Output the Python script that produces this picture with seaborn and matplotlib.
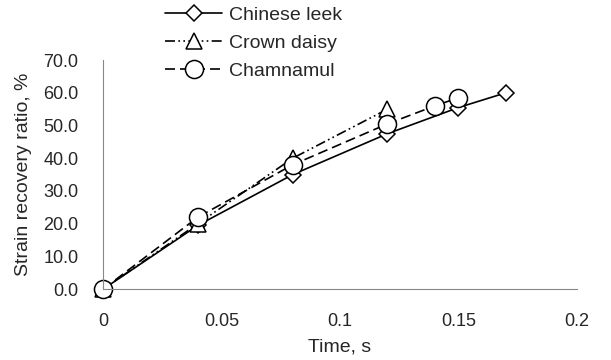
import pandas as pd
import matplotlib
matplotlib.use("Agg")
import matplotlib.pyplot as plt
import seaborn as sns

# Values
leek_time = [0, 0.04, 0.08, 0.12, 0.15, 0.17]
leek_ratio = [0, 19.5, 35.0, 47.5, 55.5, 60.0]

daisy_time = [0, 0.04, 0.08, 0.12]
daisy_ratio = [0, 20.0, 40.0, 55.0]

cham_time = [0, 0.04, 0.08, 0.12, 0.14, 0.15]
cham_ratio = [0, 22.0, 38.0, 50.5, 56.0, 58.5]

x_ticks = [0, 0.05, 0.1, 0.15, 0.2]
x_tick_labels = ["0", "0.05", "0.1", "0.15", "0.2"]
y_ticks = [0, 10, 20, 30, 40, 50, 60, 70]

series = [
    ("Chinese leek", leek_time, leek_ratio, "D", "-", 8.5),
    ("Crown daisy", daisy_time, daisy_ratio, "^", (0, (6, 2, 1, 2, 1, 2)), 11),
    ("Chamnamul", cham_time, cham_ratio, "o", (0, (6, 3)), 13),
]

sns.set_style("white")
plt.rcParams["font.family"] = ["Liberation Sans", "DejaVu Sans"]

fig = plt.figure(figsize=(6.11, 3.6), dpi=100)
ax = fig.add_axes([0.169, 0.197, 0.775, 0.636])

for name, t, r, mk, ls, ms in series:
    df = pd.DataFrame({"Time": t, "Ratio": r})
    sns.lineplot(data=df, x="Time", y="Ratio", ax=ax, color="black",
                 marker=mk, markersize=ms, markerfacecolor="white",
                 markeredgecolor="black", markeredgewidth=1.1,
                 linestyle=ls, linewidth=1.2, label=name, clip_on=False)

ax.set_xlim(0, 0.2)
ax.set_ylim(0, 70)
ax.set_xticks(x_ticks)
ax.set_xticklabels(x_tick_labels)
ax.set_yticks(y_ticks)
ax.set_yticklabels([f"{v:.1f}" for v in y_ticks])
ax.tick_params(direction="in", length=4, color="#888888", labelsize=13)
ax.tick_params(axis="x", pad=17)
ax.tick_params(axis="y", pad=18)

for side in ["top", "right"]:
    ax.spines[side].set_visible(False)
for side in ["left", "bottom"]:
    ax.spines[side].set_color("#888888")
    ax.spines[side].set_linewidth(0.8)

ax.set_xlabel("Time, s", fontsize=14, labelpad=6)
ax.set_ylabel("Strain recovery ratio, %", fontsize=14, labelpad=8)

ax.legend_.remove()
handles, labels = ax.get_legend_handles_labels()
fig.legend(handles, labels, loc="upper left", bbox_to_anchor=(0.258, 1.005),
           frameon=False, fontsize=14, handlelength=2.9, handletextpad=0.35,
           labelspacing=0.55, borderaxespad=0.0)

fig.savefig("out.png", dpi=100)
